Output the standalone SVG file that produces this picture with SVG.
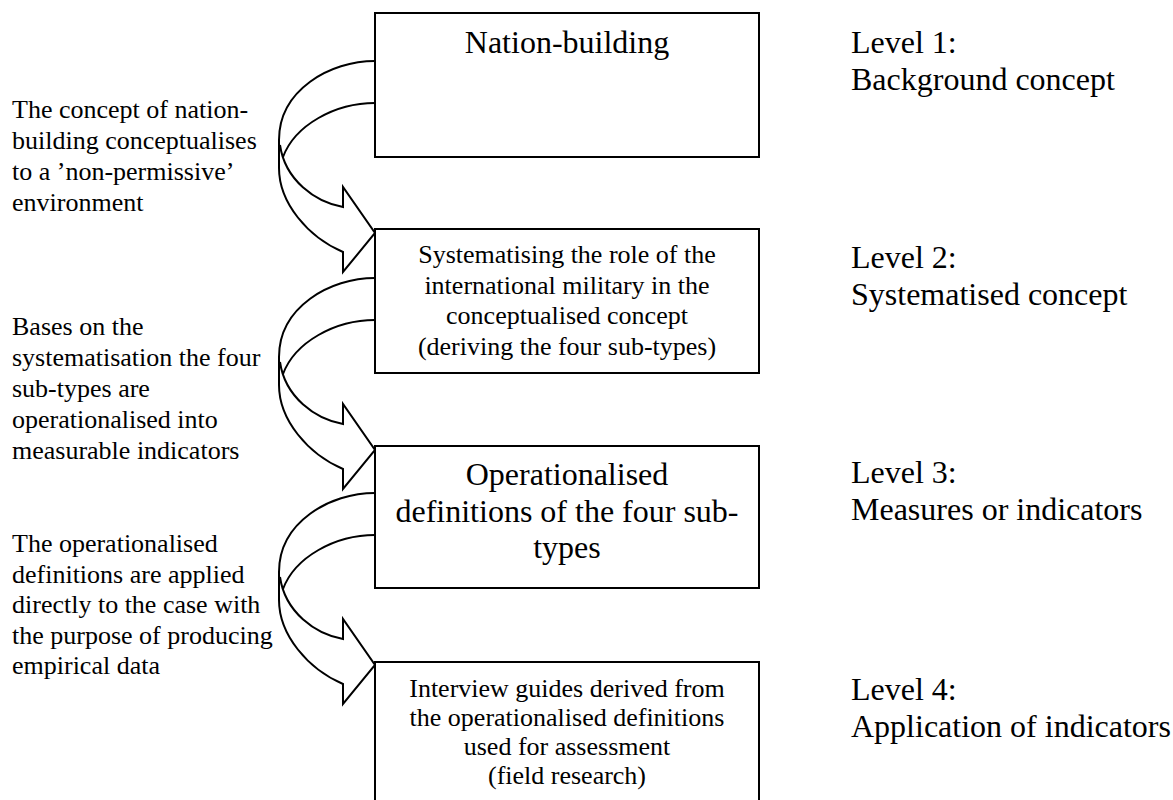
<svg xmlns="http://www.w3.org/2000/svg" width="1173" height="800" viewBox="0 0 1173 800">
<style>
.box{fill:#fff;stroke:#000;stroke-width:2}
.arr{fill:none;stroke:#000;stroke-width:2;stroke-linejoin:miter}
text{font-family:"Liberation Serif","Times New Roman",serif;fill:#000}
.s{font-size:26px}
.l{font-size:32px}
.c{text-anchor:middle}
</style>
<defs>
<g id="curved">
<path class="arr" d="M375,61 C330,61 279,90 279,140 L279,168 C279,203 308,237 343,252 L343,272 L375,233 L343,187 L343,207 C315,202 285,180 280,145"/>
<path class="arr" d="M375,103 C335,103 295,125 283,157"/>
</g>
</defs>
<rect width="1173" height="800" fill="#fff"/>
<g id="connectors">
<use href="#curved"/>
<use href="#curved" transform="translate(0,217)"/>
<use href="#curved" transform="translate(0,432)"/>
</g>
<g id="box1">
<rect class="box" x="375" y="13" width="384" height="144"/>
<text class="l c" x="567" y="53">Nation-building</text>
</g>
<g id="box2">
<rect class="box" x="375" y="229" width="384" height="144"/>
<text class="s c" x="567" y="263">Systematising the role of the</text>
<text class="s c" x="567" y="293.5">international military in the</text>
<text class="s c" x="567" y="324">conceptualised concept</text>
<text class="s c" x="567" y="354.5">(deriving the four sub-types)</text>
</g>
<g id="box3">
<rect class="box" x="375" y="446" width="384" height="142"/>
<text class="l c" x="567" y="485">Operationalised</text>
<text class="l c" x="567" y="521.5">definitions of the four sub-</text>
<text class="l c" x="567" y="558">types</text>
</g>
<g id="box4">
<rect class="box" x="375" y="662" width="384" height="150"/>
<text class="s c" x="567" y="697">Interview guides derived from</text>
<text class="s c" x="567" y="726">the operationalised definitions</text>
<text class="s c" x="567" y="755">used for assessment</text>
<text class="s c" x="567" y="784">(field research)</text>
</g>
<g id="note1">
<text class="s" x="12" y="118">The concept of nation-</text>
<text class="s" x="12" y="149">building conceptualises</text>
<text class="s" x="12" y="180">to a ’non-permissive’</text>
<text class="s" x="12" y="211">environment</text>
</g>
<g id="note2">
<text class="s" x="12" y="335">Bases on the</text>
<text class="s" x="12" y="366">systematisation the four</text>
<text class="s" x="12" y="397">sub-types are</text>
<text class="s" x="12" y="428">operationalised into</text>
<text class="s" x="12" y="459">measurable indicators</text>
</g>
<g id="note3">
<text class="s" x="12" y="552">The operationalised</text>
<text class="s" x="12" y="582.5">definitions are applied</text>
<text class="s" x="12" y="613">directly to the case with</text>
<text class="s" x="12" y="643.5">the purpose of producing</text>
<text class="s" x="12" y="674">empirical data</text>
</g>
<g id="level1">
<text class="l" x="851" y="53">Level 1:</text>
<text class="l" x="851" y="90">Background concept</text>
</g>
<g id="level2">
<text class="l" x="851" y="268">Level 2:</text>
<text class="l" x="851" y="305">Systematised concept</text>
</g>
<g id="level3">
<text class="l" x="851" y="483">Level 3:</text>
<text class="l" x="851" y="520">Measures or indicators</text>
</g>
<g id="level4">
<text class="l" x="851" y="700">Level 4:</text>
<text class="l" x="851" y="737">Application of indicators</text>
</g>
</svg>
